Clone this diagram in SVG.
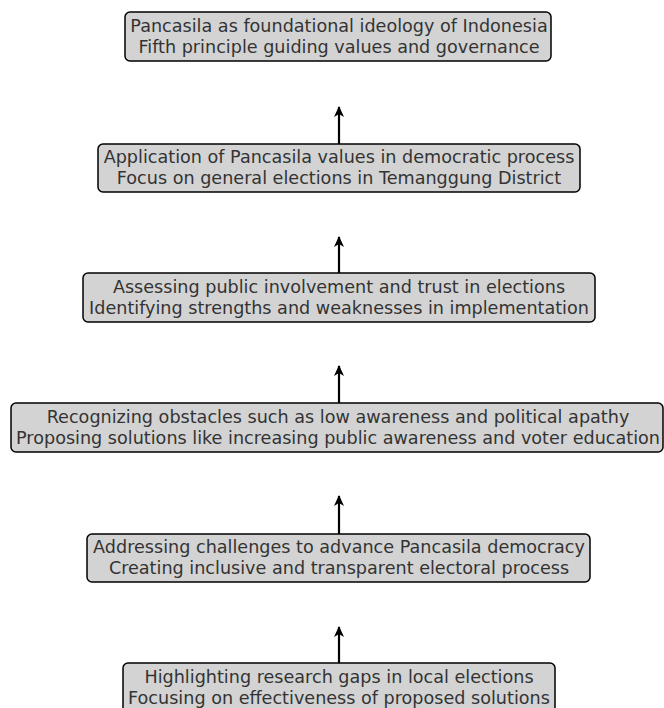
<svg xmlns="http://www.w3.org/2000/svg" width="664" height="708" viewBox="0 0 664 708">
<style>
.box{fill:#d3d3d3;stroke:#000;stroke-width:1.5}
.t{font-family:"DejaVu Sans",sans-serif;font-size:17.6px;fill:#333;text-anchor:middle}
.c{stroke:#000;stroke-width:2.2;fill:none}
</style>
<defs>
<marker id="ah" markerWidth="14" markerHeight="14" refX="10" refY="6" orient="auto" markerUnits="userSpaceOnUse">
<path d="M0,1 L11,6 L0,11 L3,6 Z" fill="#000"/>
</marker>
</defs>
<rect width="664" height="708" fill="#fff"/>
<g id="connectors">
<line class="c" x1="339" y1="144" x2="339" y2="107" marker-end="url(#ah)"/>
<line class="c" x1="339" y1="273" x2="339" y2="237" marker-end="url(#ah)"/>
<line class="c" x1="339" y1="403" x2="339" y2="366" marker-end="url(#ah)"/>
<line class="c" x1="339" y1="534" x2="339" y2="496" marker-end="url(#ah)"/>
<line class="c" x1="339" y1="663" x2="339" y2="627" marker-end="url(#ah)"/>
</g>
<g id="n1">
<rect class="box" x="125" y="12" width="426" height="49" rx="5"/>
<text class="t" x="339" y="32">Pancasila as foundational ideology of Indonesia</text>
<text class="t" x="339" y="52.5">Fifth principle guiding values and governance</text>
</g>
<g id="n2">
<rect class="box" x="98" y="144" width="482" height="48" rx="5"/>
<text class="t" x="339" y="163">Application of Pancasila values in democratic process</text>
<text class="t" x="339" y="183.5">Focus on general elections in Temanggung District</text>
</g>
<g id="n3">
<rect class="box" x="83" y="273" width="512" height="49" rx="5"/>
<text class="t" x="339" y="293">Assessing public involvement and trust in elections</text>
<text class="t" x="339" y="313.5">Identifying strengths and weaknesses in implementation</text>
</g>
<g id="n4">
<rect class="box" x="11" y="403" width="652" height="49" rx="5"/>
<text class="t" x="338" y="423">Recognizing obstacles such as low awareness and political apathy</text>
<text class="t" x="338" y="443.5">Proposing solutions like increasing public awareness and voter education</text>
</g>
<g id="n5">
<rect class="box" x="87" y="534" width="503" height="48" rx="5"/>
<text class="t" x="339" y="553">Addressing challenges to advance Pancasila democracy</text>
<text class="t" x="339" y="573.5">Creating inclusive and transparent electoral process</text>
</g>
<g id="n6">
<rect class="box" x="123" y="663" width="432" height="49" rx="5"/>
<text class="t" x="339" y="683">Highlighting research gaps in local elections</text>
<text class="t" x="339" y="703.5">Focusing on effectiveness of proposed solutions</text>
</g>
</svg>
